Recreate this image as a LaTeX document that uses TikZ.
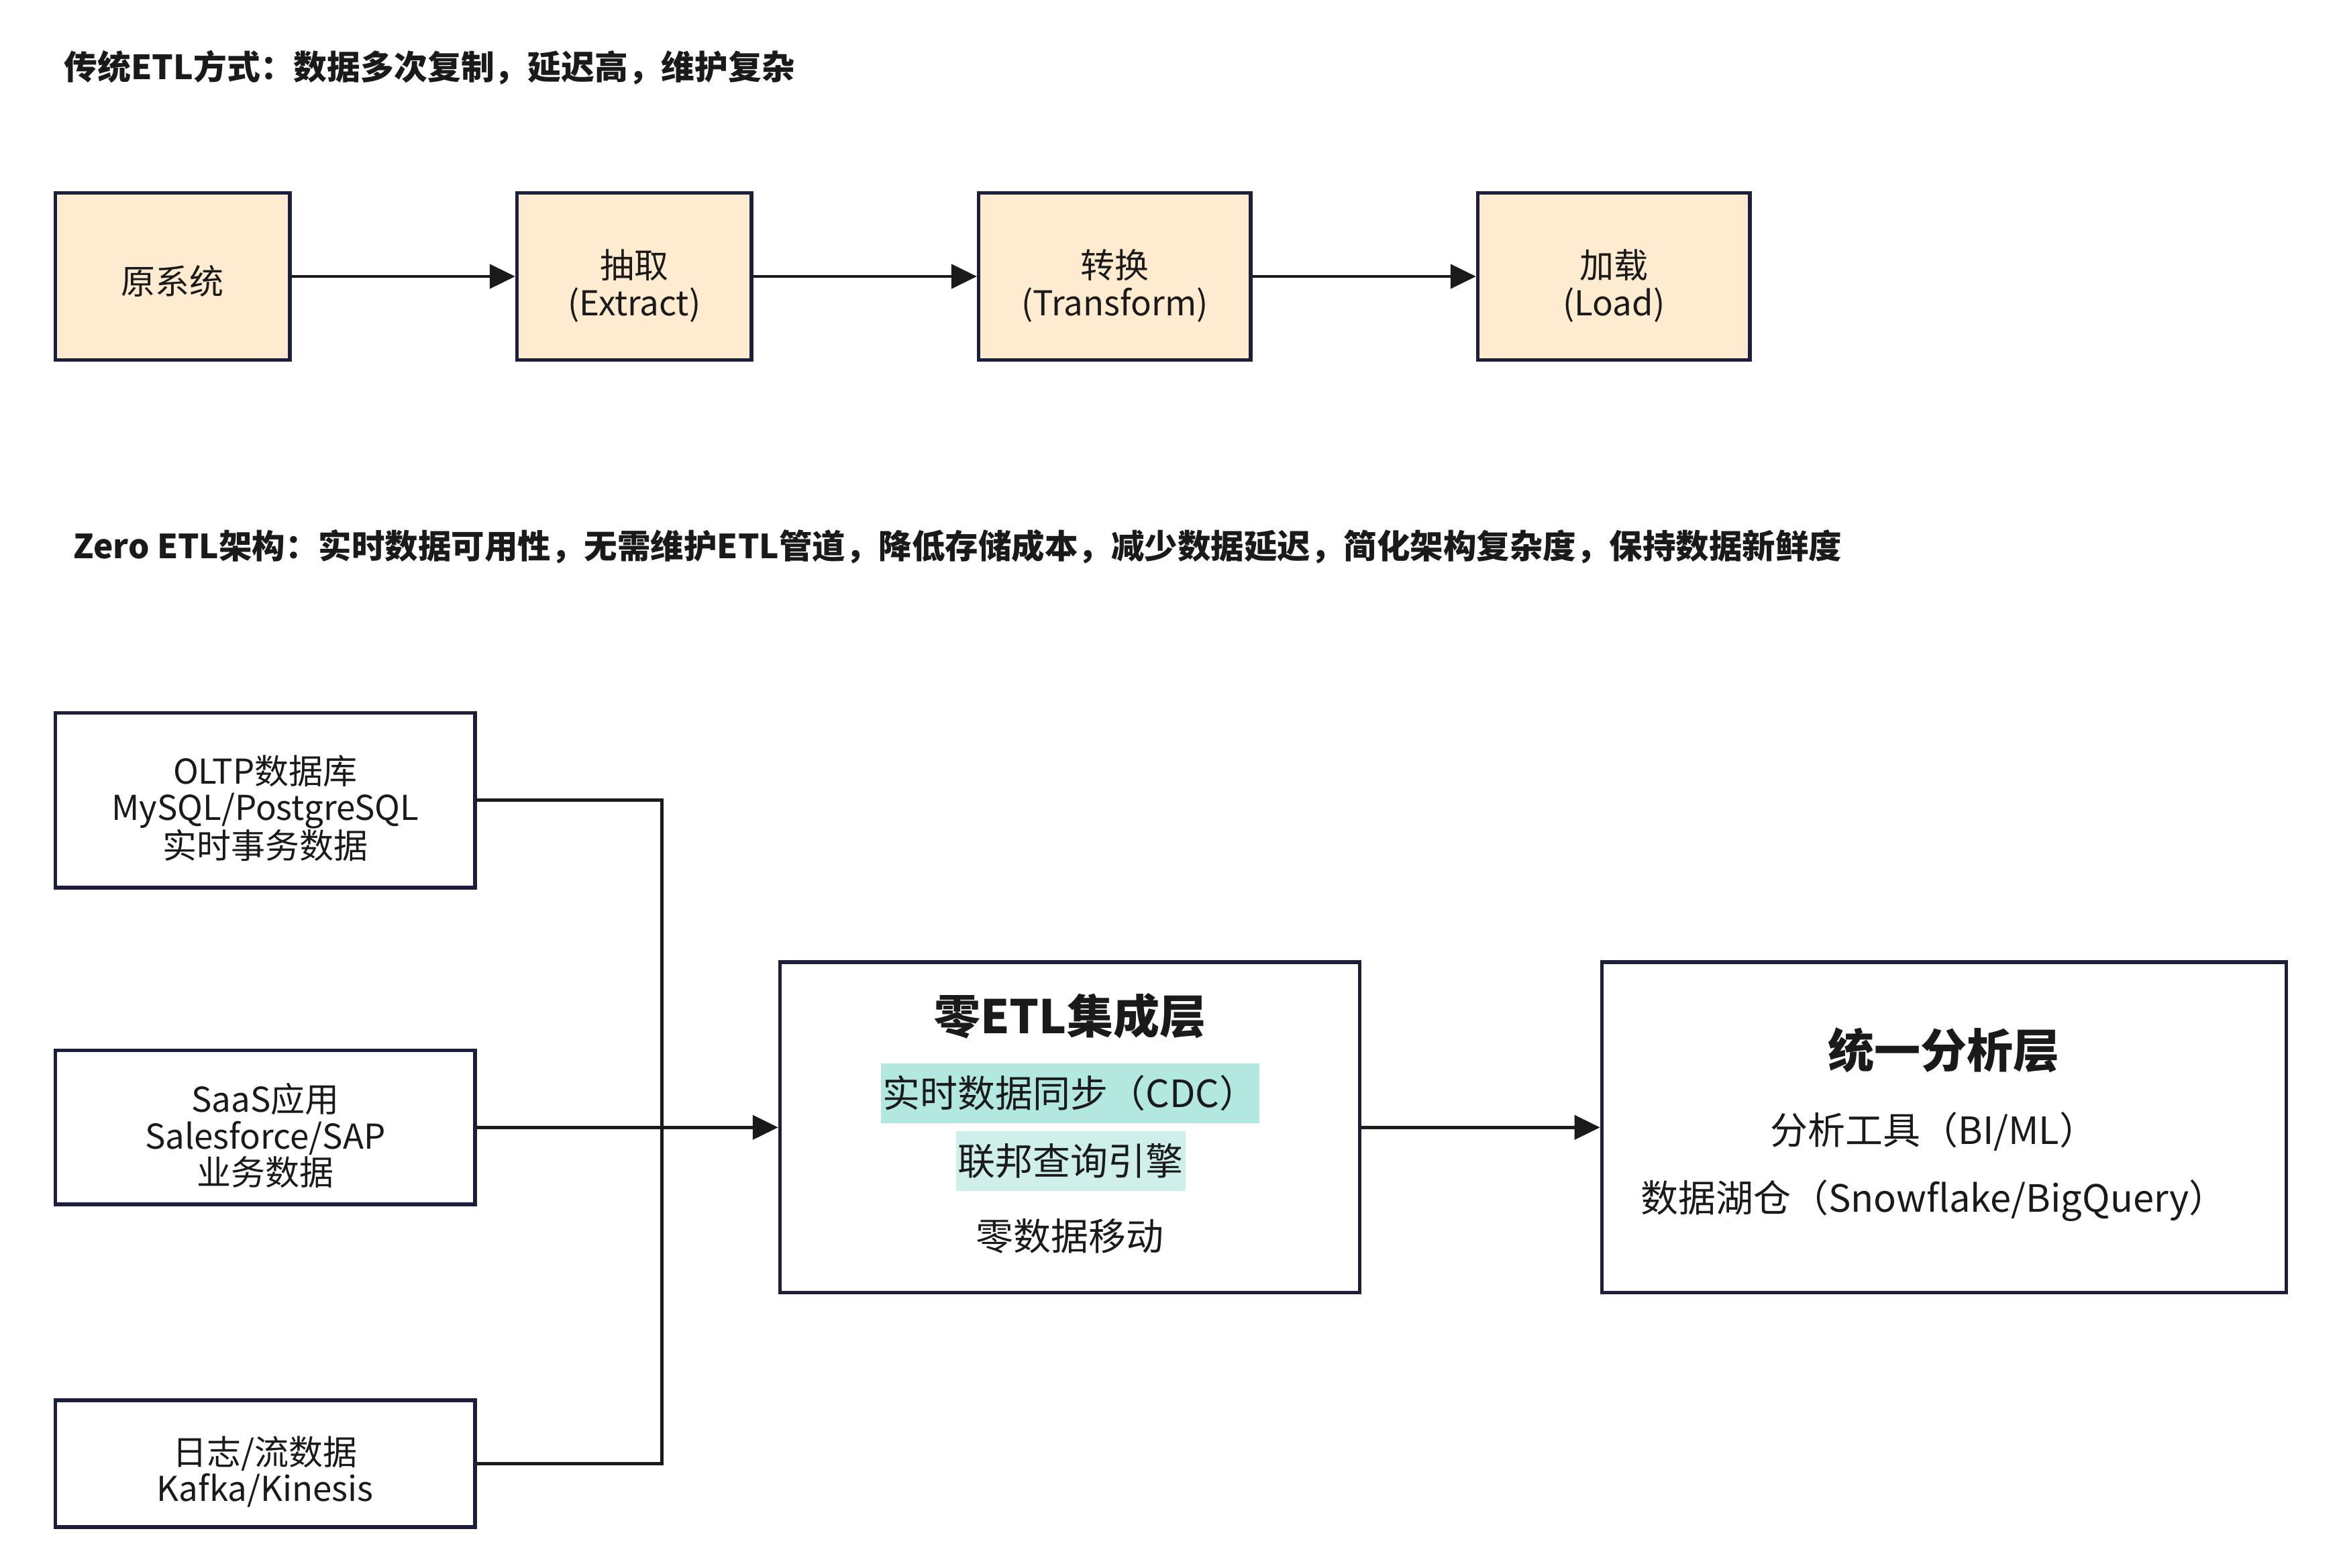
\documentclass[tikz,border=0pt]{standalone}
\usepackage{fontspec}
\setmainfont{Noto Sans CJK SC}
\usetikzlibrary{arrows.meta}
\definecolor{navy}{HTML}{1B1F3B}
\definecolor{peach}{HTML}{FFEBCF}
\definecolor{hlA}{HTML}{B3E8E0}
\definecolor{hlB}{HTML}{CFF0EA}
\definecolor{ink}{HTML}{1A1A1A}
\tikzset{
  sectitle/.style={anchor=west, inner sep=0pt, text=ink},
  etlbox/.style={draw=navy, line width=5.5pt, fill=peach, inner sep=0pt},
  srcbox/.style={draw=navy, line width=5.5pt, fill=white, inner sep=0pt},
  etltext/.style={align=center, inner sep=0pt, font=\fontsize{51}{56}\selectfont, text=ink},
  srctext/.style={align=center, inner sep=0pt, font=\fontsize{51}{54.5}\selectfont, text=ink},
  bigbox/.style={draw=navy, line width=5.5pt, fill=white, inner sep=0pt},
  boxtitle/.style={inner sep=0pt, font=\fontsize{69}{75}\selectfont\bfseries, text=ink},
  boxline/.style={inner ysep=0pt, inner xsep=3pt, minimum height=40*2.227pt, font=\fontsize{56}{60}\selectfont, text=ink},
  conn/.style={draw=ink, line width=4.5pt},
  arr/.style={conn, -{Triangle[length=38pt,width=36pt]}}
}
\begin{document}
\begin{tikzpicture}[x=2.227pt,y=-2.227pt]
\useasboundingbox (0,0) rectangle (1568,1049);
\fill[white] (0,0) rectangle (1568,1049);

\node[sectitle, font=\fontsize{49.8}{56}\selectfont\bfseries] (t1) at (43,45) {传统ETL方式：数据多次复制，延迟高，维护复杂};

\node[etlbox, minimum width=157*2.227pt, minimum height=112*2.227pt] (raw) at (115.5,185) {};
\node[etlbox, minimum width=157*2.227pt, minimum height=112*2.227pt] (ext) at (424.5,185) {};
\node[etlbox, minimum width=182*2.227pt, minimum height=112*2.227pt] (tra) at (746,185) {};
\node[etlbox, minimum width=182*2.227pt, minimum height=112*2.227pt] (lod) at (1080,185) {};
\node[etltext] (rawt) at (115.5,188) {原系统};
\node[etltext] (extt) at (424.5,191.5) {抽取\\(Extract)};
\node[etltext] (trat) at (746,191.5) {转换\\(Transform)};
\node[etltext] (lodt) at (1080,191.5) {加载\\(Load)};

\draw[arr] (raw.east) -- (ext.west);
\draw[arr] (ext.east) -- (tra.west);
\draw[arr] (tra.east) -- (lod.west);

\node[sectitle, font=\fontsize{49.5}{56}\selectfont\bfseries] (t2) at (49,366) {Zero ETL架构：实时数据可用性，无需维护ETL管道，降低存储成本，减少数据延迟，简化架构复杂度，保持数据新鲜度};

\node[srcbox, minimum width=281*2.227pt, minimum height=117*2.227pt] (oltp) at (177.5,535.5) {};
\node[srcbox, minimum width=281*2.227pt, minimum height=103*2.227pt] (saas) at (177.5,754.5) {};
\node[srcbox, minimum width=281*2.227pt, minimum height=85*2.227pt] (logs) at (177.5,979.5) {};
\node[srctext] (oltpt) at (177.5,541) {OLTP数据库\\MySQL/PostgreSQL\\实时事务数据};
\node[srctext] (saast) at (177.5,760) {SaaS应用\\Salesforce/SAP\\业务数据};
\node[srctext] (logst) at (177.5,985) {日志/流数据\\Kafka/Kinesis};

\node[bigbox, minimum width=388*2.227pt, minimum height=221*2.227pt] (zc) at (716,754.5) {};
\node[boxtitle] (zct) at (716,680) {零ETL集成层};
\node[boxline, fill=hlA] (zc1) at (716,731.5) {实时数据同步（CDC）};
\node[boxline, fill=hlB] (zc2) at (716.5,777) {联邦查询引擎};
\node[boxline] (zc3) at (716,827.5) {零数据移动};

\node[bigbox, minimum width=458*2.227pt, minimum height=221*2.227pt] (uni) at (1301,754.5) {};
\node[boxtitle] (unit) at (1301,703) {统一分析层};
\node[boxline] (uni1) at (1294,757.5) {分析工具（BI/ML）};
\node[boxline] (uni2) at (1294,803.5) {数据湖仓（Snowflake/BigQuery）};

\coordinate (j) at (443,754.5);
\draw[conn] (oltp.east) -| (j);
\draw[conn] (logs.east) -| (j);
\draw[arr] (saas.east) -- (zc.west);
\draw[arr] (zc.east) -- (uni.west);
\end{tikzpicture}
\end{document}
